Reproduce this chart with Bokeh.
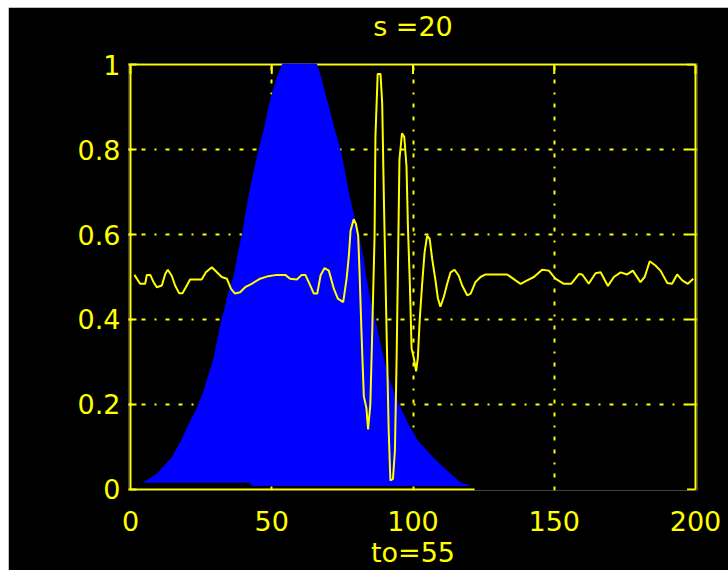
from bokeh.plotting import figure
from bokeh.models import Range1d, FixedTicker, Spacer, LinearAxis
from bokeh.layouts import column, row
from bokeh.embed import file_html
from bokeh.resources import INLINE

# ---------------- data ----------------
x_ticks = [0, 50, 100, 150, 200]
x_tick_labels = ["0", "50", "100", "150", "200"]
y_ticks = [0, 0.2, 0.4, 0.6, 0.8, 1]
y_tick_labels = ["0", "0.2", "0.4", "0.6", "0.8", "1"]
grid_x = [50, 100, 150]
grid_y = [0.2, 0.4, 0.6, 0.8]
title_text = "s =20"
xlabel_text = "to=55"

# blue window (edges)
win_x = [4.0, 4.6, 9.3, 14.6, 17.9, 20.5, 23.5, 25.8, 27.6, 29.4, 30.6, 31.7, 33.3, 34.7,
         36.5, 37.6, 38.8, 40.0, 40.9, 42.0, 43.2, 44.5, 45.9, 47.4, 48.6, 50.0, 51.8, 53.6,
         60.0,
         66.1, 67.5, 69.0, 70.6, 72.0, 73.7, 75.2, 76.3, 77.3, 78.7, 80.0, 81.4, 82.6, 83.4,
         84.4, 85.6, 87.1, 88.3, 89.7, 91.1, 93.2, 95.6, 98.5, 101.7, 107.1, 113.3, 116.8,
         120.0]
win_y = [0.016, 0.017, 0.037, 0.076, 0.115, 0.153, 0.192, 0.231, 0.270, 0.309, 0.348, 0.387,
         0.426, 0.465, 0.503, 0.542, 0.581, 0.620, 0.659, 0.698, 0.737, 0.776, 0.815, 0.854,
         0.893, 0.931, 0.970, 1.000,
         1.050,
         1.000, 0.970, 0.931, 0.893, 0.854, 0.815, 0.776, 0.737, 0.698, 0.659, 0.620, 0.581,
         0.542, 0.503, 0.465, 0.426, 0.387, 0.348, 0.309, 0.270, 0.231, 0.192, 0.153, 0.115,
         0.076, 0.037, 0.017, 0.010]
win_base = [0.016] * 20 + [0.008] * (len(win_x) - 20)

# yellow signal
sig_x = [1.4, 3.4, 5.2, 5.8, 7.0, 8.1, 9.3, 11.1, 12.3, 13.2, 14.6, 15.8, 17.2, 18.4, 19.6,
         21.1, 25.2, 26.7, 28.8, 30.6, 32.3, 34.1, 35.6, 37.0, 38.8, 40.6, 42.9, 45.9, 48.8,
         51.8, 54.8, 56.5, 58.9, 60.6, 61.9, 63.1, 64.9, 66.1, 67.3, 68.7, 70.2, 72.0, 73.4,
         75.3, 76.5, 77.3, 77.9, 79.0, 79.8, 80.6, 81.1, 81.8, 82.6, 83.5, 84.1, 84.9, 85.5,
         86.4, 86.7, 87.5, 88.5, 89.1, 89.7, 90.6, 91.4, 92.0, 92.9, 93.6, 94.2, 94.8, 95.2,
         96.1, 96.9, 97.7, 98.2, 98.9, 99.5, 100.3, 101.1, 101.7, 102.4, 103.2, 104.1, 105.0,
         105.9, 106.8, 108.0, 108.8, 109.7, 110.9, 112.1, 113.3, 114.7, 116.2, 117.4, 119.2,
         120.4, 122.1, 123.9, 125.7, 133.3, 136.3, 138.1, 140.4, 142.8, 145.7, 148.1, 150.4,
         153.4, 156.0, 158.7, 159.9, 162.2, 164.6, 166.4, 169.0, 171.1, 173.5, 175.8, 177.8,
         180.5, 182.0, 183.8, 185.8, 187.6, 190.0, 191.7, 193.5, 195.3, 197.3, 199.2]
sig_y = [0.505, 0.484, 0.484, 0.505, 0.505, 0.489, 0.476, 0.480, 0.507, 0.517, 0.503, 0.480,
         0.462, 0.462, 0.476, 0.494, 0.494, 0.511, 0.523, 0.511, 0.500, 0.496, 0.472, 0.461,
         0.464, 0.476, 0.484, 0.496, 0.502, 0.505, 0.505, 0.496, 0.494, 0.505, 0.505, 0.488,
         0.461, 0.461, 0.504, 0.521, 0.515, 0.472, 0.449, 0.441, 0.496, 0.550, 0.609, 0.636,
         0.625, 0.597, 0.507, 0.363, 0.219, 0.192, 0.141, 0.200, 0.352, 0.597, 0.830, 0.978,
         0.978, 0.908, 0.683, 0.387, 0.138, 0.021, 0.025, 0.091, 0.309, 0.581, 0.776, 0.838,
         0.830, 0.760, 0.620, 0.480, 0.332, 0.309, 0.278, 0.309, 0.402, 0.480, 0.558, 0.597,
         0.590, 0.542, 0.490, 0.450, 0.430, 0.453, 0.484, 0.511, 0.517, 0.503, 0.480, 0.457,
         0.461, 0.488, 0.500, 0.506, 0.506, 0.492, 0.484, 0.492, 0.500, 0.517, 0.515, 0.496,
         0.484, 0.484, 0.507, 0.506, 0.484, 0.509, 0.511, 0.479, 0.500, 0.511, 0.506, 0.515,
         0.488, 0.500, 0.537, 0.527, 0.515, 0.486, 0.484, 0.506, 0.492, 0.484, 0.496]

# ---------------- style ----------------
YEL = "#ffff00"
BLUE = "#0000ff"
FONT = "DejaVu Sans"
FS = "27px"
TICK_X = 3.0      # inward tick length in x data units (right side)
TICK_Y = 0.022    # inward tick length in y data units (top side)

p = figure(width=720, height=563, output_backend="svg", toolbar_location=None,
           x_range=Range1d(-0.7, 200.7), y_range=Range1d(-0.0025, 1.0025),
           background_fill_color="black", border_fill_color="black",
           outline_line_color=None,
           min_border_left=120, min_border_right=31, min_border_top=56, min_border_bottom=78)

# grid (dotted, under everything)
p.xgrid.ticker = FixedTicker(ticks=grid_x)
p.ygrid.ticker = FixedTicker(ticks=grid_y)
for g in (p.xgrid, p.ygrid):
    g.grid_line_color = YEL
    g.grid_line_width = 2
    g.grid_line_dash = "4 9 4 9 2 9"

# axes box (drawn before the blue window so it is covered by it)
x0, x1 = x_ticks[0], x_ticks[-1]
y0, y1 = y_ticks[0], y_ticks[-1]
p.segment(x0=[x0, x1, x0], y0=[y0, y0, y1], x1=[x0, x1, x1], y1=[y1, y1, y1],
          line_color=YEL, line_width=2)
p.segment(x0=[x0], y0=[y0], x1=[121.8], y1=[y0], line_color=YEL, line_width=2)
# inward ticks on top and right sides
p.segment(x0=x_ticks, y0=[y1] * len(x_ticks), x1=x_ticks, y1=[y1 - TICK_Y] * len(x_ticks),
          line_color=YEL, line_width=2)
p.segment(x0=[x1] * len(y_ticks), y0=y_ticks, x1=[x1 - TICK_X] * len(y_ticks), y1=y_ticks,
          line_color=YEL, line_width=2)

# blue window
p.varea(x=win_x, y1=win_base, y2=win_y, fill_color=BLUE)

# signal
p.line(sig_x, sig_y, line_color=YEL, line_width=2)

# axes
for ax in (p.xaxis[0], p.yaxis[0]):
    ax.axis_line_color = None
    ax.major_tick_line_color = YEL
    ax.major_tick_line_width = 2
    ax.major_tick_out = 0
    ax.minor_tick_line_color = None
    ax.major_label_text_color = YEL
    ax.major_label_text_font = FONT
    ax.major_label_text_font_size = FS

p.xaxis.ticker = FixedTicker(ticks=x_ticks)
p.xaxis.major_label_overrides = {t: l for t, l in zip(x_ticks, x_tick_labels)}
p.xaxis.major_tick_in = 0
p.xaxis.major_label_standoff = 20
p.xaxis.axis_label = xlabel_text
p.xaxis.axis_label_text_color = YEL
p.xaxis.axis_label_text_font = FONT
p.xaxis.axis_label_text_font_size = FS
p.xaxis.axis_label_text_font_style = "normal"
p.xaxis.axis_label_standoff = 3

p.yaxis.ticker = FixedTicker(ticks=y_ticks)
p.yaxis.major_label_overrides = {t: l for t, l in zip(y_ticks, y_tick_labels)}
p.yaxis.major_tick_in = 8
p.yaxis.major_label_standoff = 8

# title as the label of a tick-less top axis
top = LinearAxis(ticker=FixedTicker(ticks=[]), axis_label=title_text)
top.axis_line_color = None
top.major_tick_line_color = None
top.minor_tick_line_color = None
top.major_tick_in = 0
top.major_tick_out = 0
top.major_label_standoff = 0
top.axis_label_text_color = YEL
top.axis_label_text_font = FONT
top.axis_label_text_font_size = FS
top.axis_label_text_font_style = "normal"
top.axis_label_standoff = 22
p.add_layout(top, "above")

layout = column(Spacer(width=728, height=7), row(Spacer(width=8, height=563), p),
                Spacer(width=728, height=7))
open("out.html", "w").write(file_html(layout, INLINE))
